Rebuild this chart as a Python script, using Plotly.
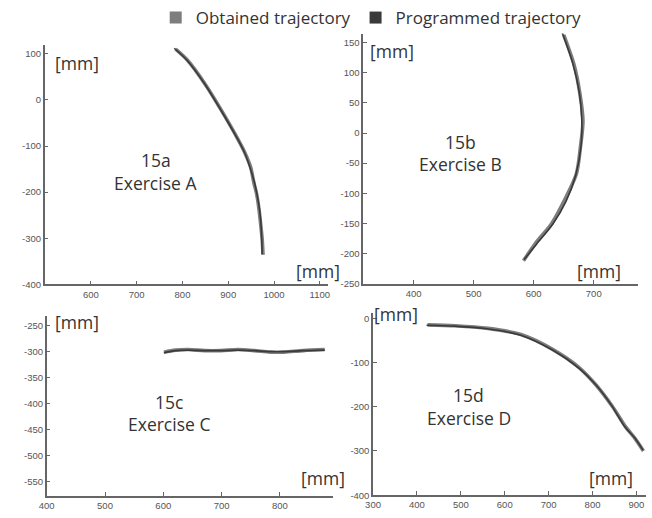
import plotly.graph_objects as go

# ---- data ----
a_prog_x = [782, 809, 849, 885, 920, 936, 948, 957, 963, 968, 971, 973, 974]
a_prog_y = [112, 87, 34, -24, -84, -115, -148, -178, -206, -235, -263, -300, -334]
a_obt_x = [785, 811, 851, 887, 921, 937, 949, 956, 962, 967, 970, 974, 976]
a_obt_y = [110, 86, 32, -26, -85, -116, -146, -180, -204, -236, -262, -301, -336]

b_prog_x = [647, 665, 676, 680, 679, 670, 654, 632, 605, 584]
b_prog_y = [168, 116, 67, 23, -20, -70, -113, -151, -184, -210]
b_obt_x = [650, 667, 677, 682, 678, 671, 652, 630, 603, 583]
b_obt_y = [163, 114, 65, 20, -22, -68, -110, -150, -183, -212]

c_prog_x = [601, 621, 643, 671, 699, 728, 756, 784, 807, 840, 877]
c_prog_y = [-302, -298, -297, -298, -298, -297, -298, -300, -300, -298, -297]
c_obt_x = [601, 621, 643, 671, 699, 728, 756, 784, 807, 840, 877]
c_obt_y = [-301, -297, -296, -298, -298, -296, -298, -301, -301, -298, -296]

d_prog_x = [422, 485, 560, 635, 709, 769, 807, 844, 874, 896, 915]
d_prog_y = [-16, -18, -24, -38, -72, -113, -150, -198, -246, -270, -298]
d_obt_x = [424, 487, 562, 637, 710, 770, 808, 845, 875, 897, 916]
d_obt_y = [-15, -17, -23, -37, -71, -112, -151, -199, -245, -272, -300]

panels = [
    dict(name="a", label="15a", ex="Exercise A",
         prog=(a_prog_x, a_prog_y), obt=(a_obt_x, a_obt_y),
         xr=[499, 1118], yr=[-400, 118],
         xt=[600, 700, 800, 900, 1000, 1100], yt=[100, 0, -100, -200, -300, -400],
         xd=[0.0572, 0.4985], yd=[0.4465, 0.9131]),
    dict(name="b", label="15b", ex="Exercise B",
         prog=(b_prog_x, b_prog_y), obt=(b_obt_x, b_obt_y),
         xr=[316, 774], yr=[-250, 165],
         xt=[400, 500, 600, 700], yt=[150, 100, 50, 0, -50, -100, -150, -200, -250],
         xd=[0.5532, 0.9816], yd=[0.4479, 0.9363]),
    dict(name="c", label="15c", ex="Exercise C",
         prog=(c_prog_x, c_prog_y), obt=(c_obt_x, c_obt_y),
         xr=[400, 891], yr=[-578, -232],
         xt=[400, 500, 600, 700, 800, 900], yt=[-250, -300, -350, -400, -450, -500, -550],
         xd=[0.0603, 0.5061], yd=[0.0328, 0.3842]),
    dict(name="d", label="15d", ex="Exercise D",
         prog=(d_prog_x, d_prog_y), obt=(d_obt_x, d_obt_y),
         xr=[300, 922], yr=[-400, 11],
         xt=[300, 400, 500, 600, 700, 800, 900], yt=[0, -100, -200, -300, -400],
         xd=[0.5686, 0.9939], yd=[0.0347, 0.39]),
]

# annotation positions in pixels (x, y from top-left)
ann_px = {
    "a": dict(title=(150, 161), ex=(150, 184), ymm=(70, 63), xmm=(315, 273)),
    "b": dict(title=(460, 143), ex=(460, 165), ymm=(390, 51), xmm=(600, 273)),
    "c": dict(title=(163, 406), ex=(163, 428), ymm=(70, 325), xmm=(320, 483)),
    "d": dict(title=(468, 399), ex=(468, 422), ymm=(394, 317), xmm=(612, 483)),
}

W, H = 652, 518
OBT_COL = "#7d7d7d"
PROG_COL = "#3a3a3a"
AX_COL = "#666666"
TXT_COL = "#333333"
TEXT_FONT = "Open Sans"


def hy(v):
    return str(v).replace("\u2212", "-")


fig = go.Figure()
annotations = []
for i, p in enumerate(panels):
    n = "" if i == 0 else str(i + 1)
    xa, ya = "x" + n, "y" + n
    fig.add_trace(go.Scatter(x=p["obt"][0], y=p["obt"][1], mode="lines",
                             line=dict(color=OBT_COL, width=3.6, shape="spline", smoothing=0.8),
                             xaxis=xa, yaxis=ya, showlegend=False,
                             name="Obtained trajectory"))
    fig.add_trace(go.Scatter(x=p["prog"][0], y=p["prog"][1], mode="lines",
                             line=dict(color=PROG_COL, width=1.6, shape="spline", smoothing=0.8),
                             xaxis=xa, yaxis=ya, showlegend=False,
                             name="Programmed trajectory"))
    axstyle = dict(showline=True, linecolor=AX_COL, linewidth=1.5, ticks="inside",
                   ticklen=4, tickcolor=AX_COL, tickwidth=1, showgrid=False,
                   zeroline=False,
                   tickfont=dict(family="Liberation Sans", size=9.5, color="#555555"),
                   fixedrange=True)
    fig.update_layout(**{
        "xaxis" + n: dict(domain=p["xd"], range=p["xr"], tickvals=p["xt"],
                          ticktext=[hy(v) for v in p["xt"]], anchor=ya, **axstyle),
        "yaxis" + n: dict(domain=p["yd"], range=p["yr"], tickvals=p["yt"],
                          ticktext=[hy(v) for v in p["yt"]], anchor=xa, **axstyle),
    })
    ap = ann_px[p["name"]]
    for key, txt in (("title", p["label"]), ("ex", p["ex"]), ("ymm", "[mm]"), ("xmm", "[mm]")):
        px, py = ap[key]
        annotations.append(dict(x=px / W, y=1 - py / H, xref="paper", yref="paper",
                                text=txt, showarrow=False, xanchor="center", yanchor="middle",
                                font=dict(family=TEXT_FONT, size=17.5, color=TXT_COL)))

# legend entries
fig.add_trace(go.Scatter(x=[None], y=[None], mode="markers", name="Obtained trajectory",
                         marker=dict(symbol="square", size=12, color=OBT_COL)))
fig.add_trace(go.Scatter(x=[None], y=[None], mode="markers", name="Programmed trajectory",
                         marker=dict(symbol="square", size=12, color=PROG_COL)))

fig.update_layout(
    width=W, height=H,
    margin=dict(l=0, r=0, t=0, b=0),
    paper_bgcolor="white", plot_bgcolor="white",
    annotations=annotations,
    showlegend=True,
    legend=dict(orientation="h", x=150 / W, y=1 - 17 / H, xanchor="left", yanchor="middle",
                font=dict(family=TEXT_FONT, size=17, color=TXT_COL),
                itemwidth=30, tracegroupgap=0, bgcolor="rgba(0,0,0,0)"),
)

fig.write_html("out.html", config={"displayModeBar": False},
               post_script="document.body.style.margin='0';")
